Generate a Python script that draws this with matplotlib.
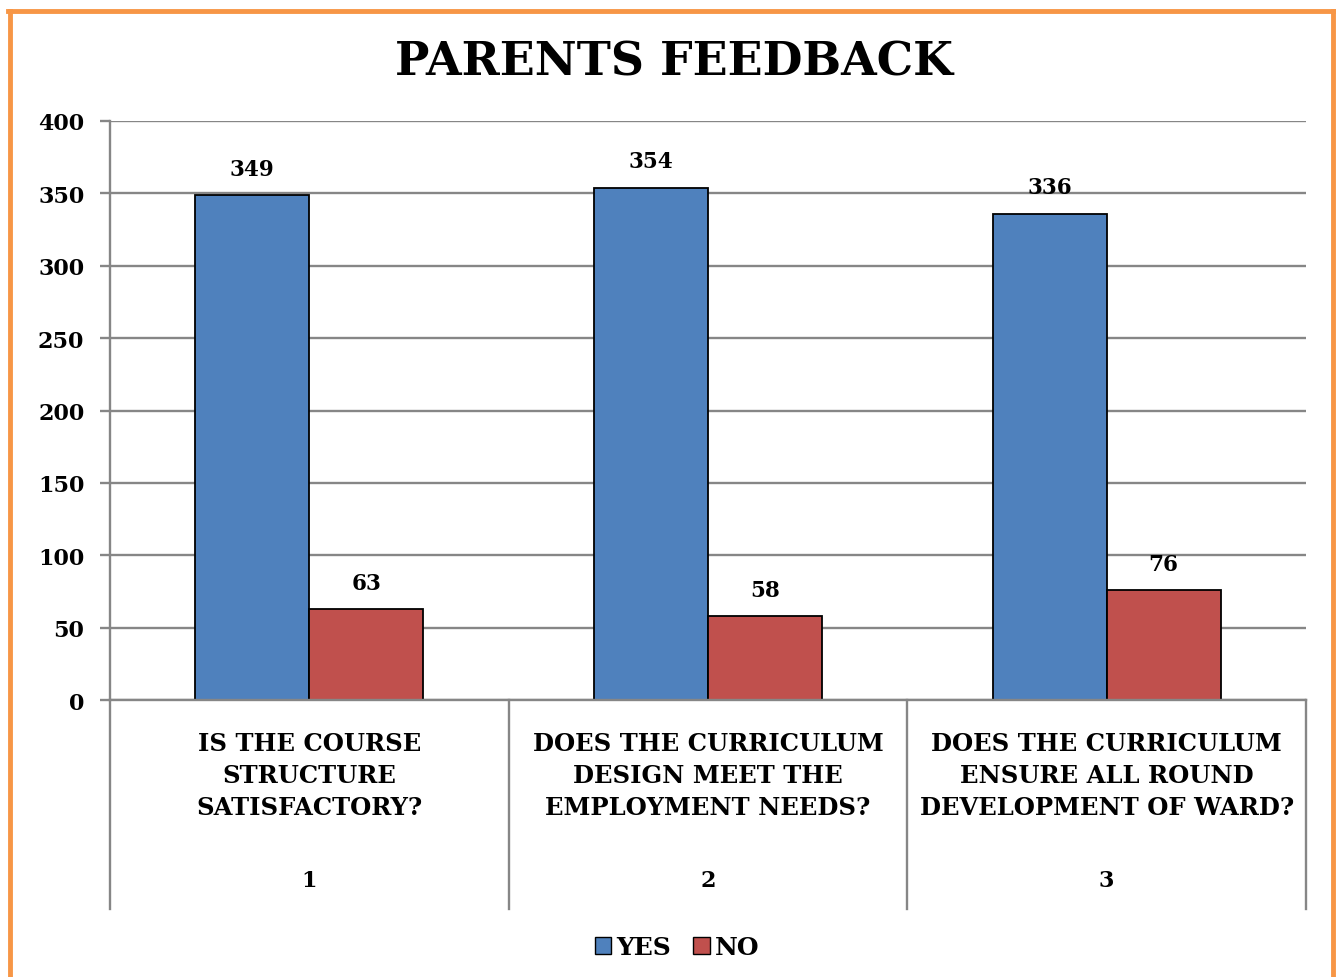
import matplotlib
matplotlib.use("Agg")
import matplotlib.pyplot as plt
from matplotlib.transforms import blended_transform_factory
from matplotlib.patches import Patch
import numpy as np

# data
questions = ["IS THE COURSE\nSTRUCTURE\nSATISFACTORY?",
             "DOES THE CURRICULUM\nDESIGN MEET THE\nEMPLOYMENT NEEDS?",
             "DOES THE CURRICULUM\nENSURE ALL ROUND\nDEVELOPMENT OF WARD?"]
numbers = ["1", "2", "3"]
yes = [349, 354, 336]
no = [63, 58, 76]
yticks = [0, 50, 100, 150, 200, 250, 300, 350, 400]

W, H = 1336, 978
plt.rcParams['font.family'] = ['DejaVu Serif']
plt.rcParams['font.weight'] = 'bold'

fig = plt.figure(figsize=(W / 100, H / 100), dpi=100)

def fx(x):
    return x / W

def fy(y):
    return 1 - y / H

# plot area in pixels: x 110..1306, y 122..701
ax = fig.add_axes([fx(110), fy(701), fx(1306) - fx(110), fy(122) - fy(701)])

grid_col = "#868686"
blue = "#4F81BD"
red = "#C0504D"

x = np.arange(len(yes))
w = 0.286
b1 = ax.bar(x - w / 2, yes, w, color=blue, edgecolor="black", linewidth=1.3, zorder=3)
b2 = ax.bar(x + w / 2, no, w, color=red, edgecolor="black", linewidth=1.3, zorder=3)

for rect, v in list(zip(b1, yes)) + list(zip(b2, no)):
    ax.annotate(str(v), (rect.get_x() + rect.get_width() / 2, v),
                xytext=(0, 11), textcoords="offset points",
                ha="center", va="bottom", fontsize=15.5, fontweight="bold")

ax.set_xlim(-0.5, 2.5)
ax.set_ylim(0, 400)
ax.set_yticks(yticks)
ax.set_yticklabels([str(t) for t in yticks], fontsize=16, fontweight="bold")
ax.set_xticks([])
ax.yaxis.grid(True, color=grid_col, linewidth=1.7, zorder=0)
ax.tick_params(axis="y", length=7.5, width=1.7, color=grid_col, pad=11)
for s in ["top", "right", "bottom"]:
    ax.spines[s].set_visible(False)
ax.spines["left"].set_color(grid_col)
ax.spines["left"].set_linewidth(1.7)

# multi-level category axis below the plot
ax.plot([-0.5, 2.5], [0, 0], color=grid_col, linewidth=1.7, zorder=4, clip_on=False)
trans = blended_transform_factory(ax.transData, fig.transFigure)
for xd in [-0.5, 0.5, 1.5, 2.5]:
    ax.plot([xd, xd], [fy(701), fy(910)], transform=trans, color=grid_col,
            linewidth=1.7, clip_on=False)
for i in range(len(questions)):
    ax.text(i, fy(776), questions[i], transform=trans, ha="center", va="center",
            fontsize=17.5, fontweight="bold", linespacing=1.42)
    ax.text(i, fy(881), numbers[i], transform=trans, ha="center", va="center",
            fontsize=16, fontweight="bold")

fig.text(fx(674), fy(62), "PARENTS FEEDBACK", ha="center", va="center",
         fontsize=33, fontweight="bold")

handles = [Patch(facecolor=blue, edgecolor="black", label="YES"),
           Patch(facecolor=red, edgecolor="black", label="NO")]
fig.legend(handles=handles, loc="center", bbox_to_anchor=(fx(677), fy(948)),
           ncol=2, frameon=False, prop={"family": "DejaVu Serif", "weight": "bold", "size": 18},
           handlelength=0.65, handleheight=0.65, handletextpad=0.2, columnspacing=0.9)

# orange frame (left, top, right)
orange = "#F79646"
fig.add_artist(plt.Line2D([fx(9.5), fx(9.5)], [0, fy(11.5)], color=orange, linewidth=3.5))
fig.add_artist(plt.Line2D([fx(8), fx(1334)], [fy(11.5), fy(11.5)], color=orange, linewidth=3.5))
fig.add_artist(plt.Line2D([fx(1333), fx(1333)], [0, fy(11.5)], color=orange, linewidth=3.5))

fig.savefig("out.png", dpi=100)
